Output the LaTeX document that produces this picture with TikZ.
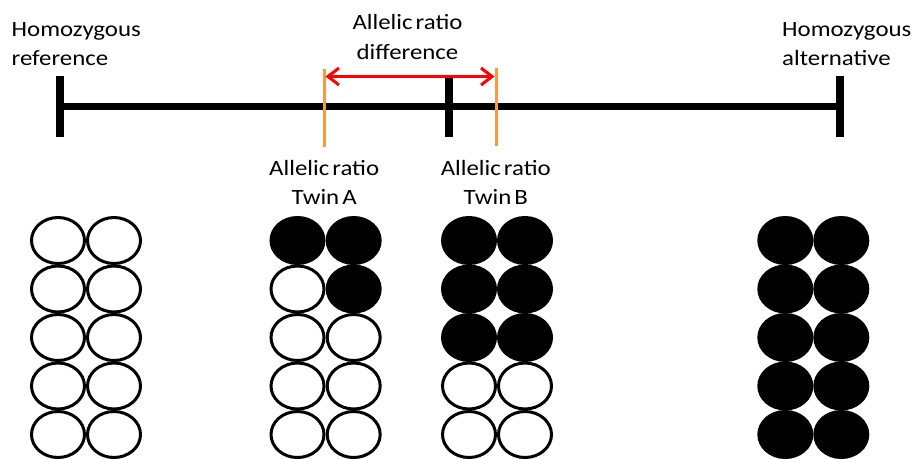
\documentclass[tikz,border=0pt]{standalone}
\usepackage{fontspec}
\setmainfont{Carlito}[FakeStretch=1.14, WordSpace=0.55]
\usetikzlibrary{arrows.meta}
\definecolor{ratioorange}{HTML}{FF9A3C}
\definecolor{diffred}{HTML}{FF0000}
\begin{document}
\begin{tikzpicture}[x=1pt,y=-1pt,
  lbl/.style={inner sep=0pt, font=\fontsize{21.8}{29}\selectfont},
  axisline/.style={line width=7.5pt},
  tickmark/.style={line width=8pt},
  ratioline/.style={ratioorange, line width=3pt},
  diffarrow/.style={diffred, line width=3pt,
    arrows={Straight Barb[length=11pt, width=17pt]-Straight Barb[length=11pt, width=17pt]}},
  allele/.style={line width=3pt, draw=black},
]
\useasboundingbox (0,0) rectangle (912,458);

% scale from homozygous reference to homozygous alternative
\coordinate (axL) at (60,106.5);
\coordinate (axM) at (449,106.5);
\coordinate (axR) at (839.5,106.5);
\draw[axisline] (axL) -- (axR);
\draw[tickmark] (axL) ++(0,-30.5) -- ++(0,61);
\draw[tickmark] (axM) ++(0,-29.5) -- ++(0,60);
\draw[tickmark] (axR) ++(0,-30.5) -- ++(0,61);

% allelic ratios of the two twins
\coordinate (ratioA) at (324,107);
\coordinate (ratioB) at (496,107);
\draw[ratioline] (ratioA) ++(0,-38) -- ++(0,78);
\draw[ratioline] (ratioB) ++(0,-39) -- ++(0,78);

% difference between the two ratios
\coordinate (diffA) at (325.5,76.5);
\coordinate (diffB) at (494.5,76.5);
\draw[diffarrow] (diffA) -- (diffB);

% labels
\node[lbl, anchor=base west] (refA) at (11.5,36.7) {Homozygous};
\node[lbl, anchor=base west] (refB) at (11.5,65.5) {reference};
\node[lbl, anchor=base west] (altA) at (782,36.7) {Homozygous};
\node[lbl, anchor=base west] (altB) at (782,65.5) {alternative};
\node[lbl, anchor=base] (diffT1) at (407.5,29.5) {Allelic ratio};
\node[lbl, anchor=base] (diffT2) at (407.5,59.5) {difference};
\node[lbl, anchor=base] (twinA1) at (324.2,175) {Allelic ratio};
\node[lbl, anchor=base] (twinA2) at (324.2,204) {Twin A};
\node[lbl, anchor=base] (twinB1) at (495.8,175) {Allelic ratio};
\node[lbl, anchor=base] (twinB2) at (495.8,204) {Twin B};

% alleles: homozygous reference, all hollow
\foreach \yy in {240.5,289,337.5,386,434.5}
  \foreach \xx in {58,114}
    \draw[allele] (\xx,\yy) ellipse [x radius=26.5, y radius=23];

% twin A
\foreach \xx/\yy/\fc in {297.5/240.5/black, 353.7/240.5/black,
    297.5/289/none, 353.7/289/black,
    297.5/337.5/none, 353.7/337.5/none,
    297.5/386/none, 353.7/386/none,
    297.5/434.5/none, 353.7/434.5/none}
  \draw[allele, fill=\fc] (\xx,\yy) ellipse [x radius=26.5, y radius=23];

% twin B
\foreach \yy/\fc in {240.5/black, 289/black, 337.5/black, 386/none, 434.5/none}
  \foreach \xx in {469,525}
    \draw[allele, fill=\fc] (\xx,\yy) ellipse [x radius=26.5, y radius=23];

% homozygous alternative, all filled
\foreach \yy in {240.5,289,337.5,386,434.5}
  \foreach \xx in {785.3,841.3}
    \draw[allele, fill=black] (\xx,\yy) ellipse [x radius=26.5, y radius=23];
\end{tikzpicture}
\end{document}
